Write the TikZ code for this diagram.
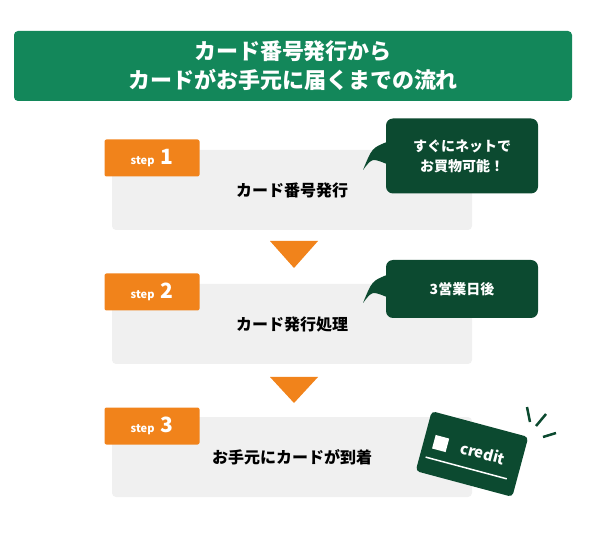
\documentclass[tikz,border=0pt]{standalone}
\usepackage{fontspec}
\setmainfont{Noto Sans CJK JP}
\usetikzlibrary{positioning,calc}
\definecolor{titlecolor}{RGB}{19,135,90}
\definecolor{stepcolor}{RGB}{240,240,240}
\definecolor{tabcolor}{RGB}{241,131,27}
\definecolor{notecolor}{RGB}{12,74,48}

\begin{document}
\begin{tikzpicture}[
    x=1pt, y=-1pt,
    every node/.style={font=\bfseries},
    title/.style={
        rectangle, rounded corners=4pt, fill=titlecolor,
        text=white, align=center, font=\fontsize{22}{29}\selectfont\bfseries,
        minimum width=558pt, minimum height=70pt
    },
    stepbox/.style={
        rectangle, rounded corners=4pt, fill=stepcolor,
        minimum width=360pt, minimum height=80pt,
        font=\fontsize{16}{18}\selectfont\bfseries
    },
    tab/.style={
        rectangle, rounded corners=2pt, fill=tabcolor, text=white,
        minimum width=95pt, minimum height=37pt, inner sep=0pt
    },
    note/.style={
        rectangle, rounded corners=7pt, fill=notecolor, text=white,
        minimum width=152pt, minimum height=75pt, align=center,
        font=\fontsize{14}{20}\selectfont\bfseries
    },
    arrowtri/.style={fill=tabcolor}
]
\useasboundingbox (0,0) rectangle (600,537);

% Title
\node[title] (head) at (293,66) {カード番号発行から\\カードがお手元に届くまでの流れ};

% Steps
\node[stepbox] (box1) at (292,190) {カード番号発行};
\node[stepbox] (box2) at (292,324) {カード発行処理};
\node[stepbox] (box3) at (292,457) {お手元にカードが到着};

\foreach \i/\y in {1/158, 2/292, 3/426} {
    \node[tab] (tab\i) at (152,\y)
        {{\fontsize{11}{12}\selectfont step}\hspace{6pt}{\fontsize{21}{22}\selectfont \i}};
}

% Down arrows
\fill[arrowtri] (270,241) -- (318,241) -- (294,268) -- cycle;
\fill[arrowtri] (270,377) -- (318,377) -- (294,403) -- cycle;

% Notes
\node[note] (note1) at (462,156) {すぐにネットで\\お買物可能！};
\node[note, minimum height=58pt] (note2) at (462,289) {3営業日後};
\foreach \n/\y in {note1/150, note2/283} {
    \fill[notecolor] ($(\n.west)+(1,-14)$) .. controls (372,\y-2) .. (363,\y+20)
        .. controls (372,\y+8) .. ($(\n.west)+(1,8)$) -- cycle;
}

% Card
\begin{scope}[shift={(472,454)}, rotate=-15]
    \fill[notecolor, rounded corners=4pt] (-50,-31) rectangle (50,31);
    \fill[white] (-40,-9) rectangle (-26,5);
    \draw[white, line width=1.5pt] (-44,15) -- (40,15);
\end{scope}
\node[text=white, rotate=-15, font=\fontsize{15}{16}\selectfont\bfseries] (cardtext) at (483,453) {credit};
\draw[notecolor, line width=2.5pt] (527,407) -- (530,422);
\draw[notecolor, line width=2.5pt] (546,414) -- (536,426);
\draw[notecolor, line width=2.5pt] (556,433) -- (543,437);
\end{tikzpicture}
\end{document}
